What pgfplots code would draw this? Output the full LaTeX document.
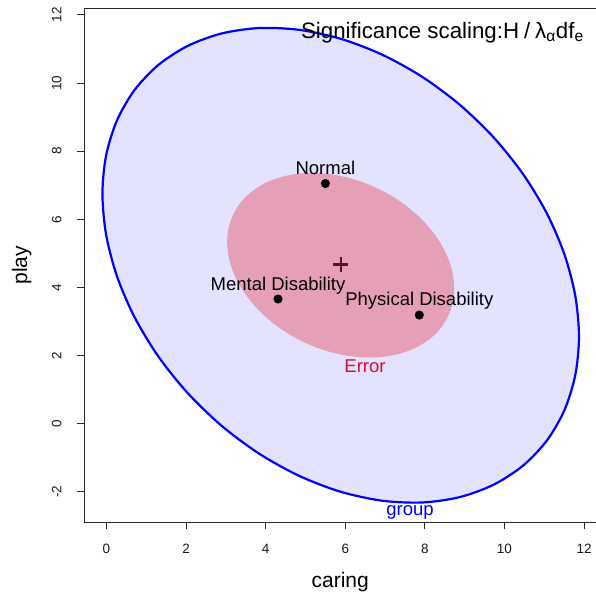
\documentclass[border=0pt]{standalone}
\usepackage{fontspec}
\setmainfont{Liberation Sans}
\usepackage{pgfplots}
\pgfplotsset{compat=1.18}
\definecolor{grpfill}{RGB}{227,227,255}
\definecolor{errfill}{RGB}{229,160,184}
\definecolor{plusc}{RGB}{100,10,45}
\definecolor{errtxt}{RGB}{225,10,50}
\definecolor{axc}{RGB}{40,40,40}
\begin{document}
\begin{tikzpicture}
\useasboundingbox (0pt,0pt) rectangle (596pt,596pt);
\begin{axis}[
  at={(84pt,74pt)}, anchor=south west,
  scale only axis, width=512.4pt, height=513.5pt,
  xmin=-0.565, xmax=12.31, ymin=-2.885, ymax=12.187,
  xtick={0,2,...,12}, ytick={-2,0,...,12},
  xtick pos=bottom, ytick pos=left,
  tick align=outside, major tick length=7pt,
  axis line style={draw=axc, line width=0.9pt},
  every tick/.style={draw=axc, line width=0.9pt},
  /pgf/number format/assume math mode=true,
  ticklabel style={font=\fontsize{13.5}{16}\selectfont, text=black!90},
  yticklabel style={xshift=-12pt, rotate=90, anchor=south},
  xticklabel style={yshift=-12pt, anchor=north},
  xlabel={caring}, ylabel={play},
  label style={font=\fontsize{21}{24}\selectfont},
  xlabel style={at={(axis description cs:0.5,-0.1266)}, anchor=base},
  ylabel style={at={(axis description cs:-0.1112,0.5)}, anchor=base, rotate=0},
  clip=false,
]
% group (hypothesis) ellipse
\addplot[draw=blue, line width=2.2pt, fill=grpfill, smooth cycle] coordinates {
(11.872,2.557) (11.781,3.743) (11.511,4.957) (11.070,6.161) (10.471,7.320) (9.733,8.397)
(8.879,9.360) (7.933,10.181) (6.924,10.834) (5.885,11.298) (4.846,11.560) (3.837,11.613)
(2.891,11.454) (2.037,11.087) (1.299,10.526) (0.700,9.787) (0.259,8.891) (-0.011,7.865)
(-0.102,6.743) (-0.011,5.557) (0.259,4.343) (0.700,3.139) (1.299,1.980) (2.037,0.903)
(2.891,-0.060) (3.837,-0.881) (4.846,-1.534) (5.885,-1.998) (6.924,-2.260) (7.933,-2.313)
(8.879,-2.154) (9.733,-1.787) (10.471,-1.226) (11.070,-0.487) (11.511,0.409) (11.781,1.435)
};
% error ellipse
\addplot[draw=none, fill=errfill, smooth cycle] coordinates {
(8.739,3.966) (8.696,4.431) (8.567,4.903) (8.357,5.369) (8.071,5.811) (7.720,6.218)
(7.312,6.578) (6.861,6.879) (6.380,7.112) (5.885,7.271) (5.390,7.350) (4.909,7.347)
(4.458,7.262) (4.050,7.098) (3.699,6.859) (3.413,6.553) (3.203,6.189) (3.074,5.779)
(3.031,5.334) (3.074,4.869) (3.203,4.397) (3.413,3.931) (3.699,3.489) (4.050,3.082)
(4.458,2.722) (4.909,2.421) (5.390,2.188) (5.885,2.029) (6.380,1.950) (6.861,1.953)
(7.312,2.038) (7.720,2.202) (8.071,2.441) (8.357,2.747) (8.567,3.111) (8.696,3.521)
};
% group means
\addplot[only marks, mark=*, mark size=4.3pt, black] coordinates {
(5.50,7.05) (4.31,3.66) (7.86,3.19)
};
% grand mean
\addplot[only marks, mark=+, mark size=7.5pt, mark options={line width=2.6pt}, plusc] coordinates {(5.89,4.67)};
\node[anchor=base, font=\fontsize{18.5}{20}\selectfont, yshift=9pt] at (axis cs:5.50,7.05) {Normal};
\node[anchor=base, font=\fontsize{18.5}{20}\selectfont, yshift=9pt] at (axis cs:4.31,3.66) {Mental Disability};
\node[anchor=base, font=\fontsize{18.5}{20}\selectfont, yshift=9.5pt] at (axis cs:7.86,3.19) {Physical Disability};
\node[anchor=base, font=\fontsize{18.5}{20}\selectfont, text=errtxt] at (axis cs:6.495,1.517) {Error};
\node[anchor=base, font=\fontsize{18.5}{20}\selectfont, text=blue] at (axis cs:7.626,-2.68) {group};
\node[anchor=base east, font=\fontsize{22.3}{24}\selectfont] at (axis cs:12.08,11.32) {Significance scaling:H\hspace{0.22em}/\hspace{0.22em}λ\textsubscript{α}df\textsubscript{e}};
\end{axis}
\end{tikzpicture}
\end{document}
